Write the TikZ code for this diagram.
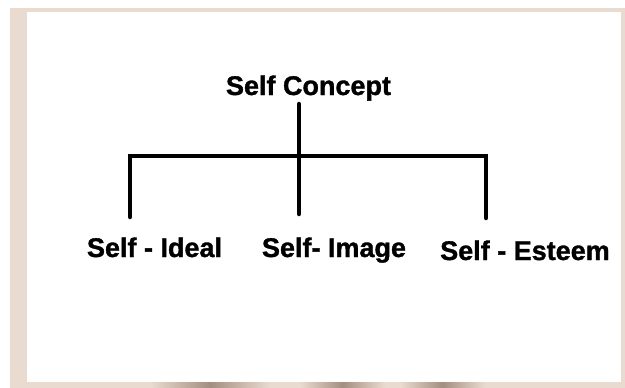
\documentclass[tikz,border=0pt]{standalone}
\usepackage{fontspec}
\setmainfont{Liberation Sans}[BoldFeatures={FakeBold=1.2}]
\usetikzlibrary{positioning}
\definecolor{framebeige}{HTML}{EADBD0}
\definecolor{shadowgray}{HTML}{A38F80}

\begin{document}
\begin{tikzpicture}[x=1pt, y=-1pt, font=\fontsize{27}{32}\bfseries\selectfont]
  \tikzstyle{label}=[inner sep=0pt, anchor=base]
  \tikzstyle{branch}=[line width=4.5pt, line cap=round, line join=miter]
  % page and frame
  \useasboundingbox (0,0) rectangle (625,388);
  \fill[white] (0,0) rectangle (625,388);
  \fill[framebeige] (10,8) rectangle (625,388);
  \shade[left color=framebeige, right color=framebeige, middle color=shadowgray] (150,382) rectangle (270,388);
  \shade[left color=framebeige, right color=framebeige, middle color=shadowgray] (300,382) rectangle (385,388);
  \shade[left color=framebeige, right color=framebeige, middle color=shadowgray] (400,382) rectangle (485,388);
  \fill[white] (27,12) rectangle (621,382);

  \node[label] (concept) at (308.5,95) {Self Concept};
  \node[label] (ideal) at (154.5,257) {Self - Ideal};
  \node[label] (image) at (334,257) {Self- Image};
  \node[label] (esteem) at (525,260) {Self - Esteem};

  \coordinate (top) at (299,104);
  \coordinate (barleft) at (130,156);
  \coordinate (barright) at (486,156);
  \coordinate (idealend) at (130,217);
  \coordinate (imageend) at (299,214);
  \coordinate (esteemend) at (486,218);
  \draw[branch] (top) -- (imageend);
  \draw[branch] (idealend) -- (barleft) -- (barright) -- (esteemend);
\end{tikzpicture}
\end{document}
